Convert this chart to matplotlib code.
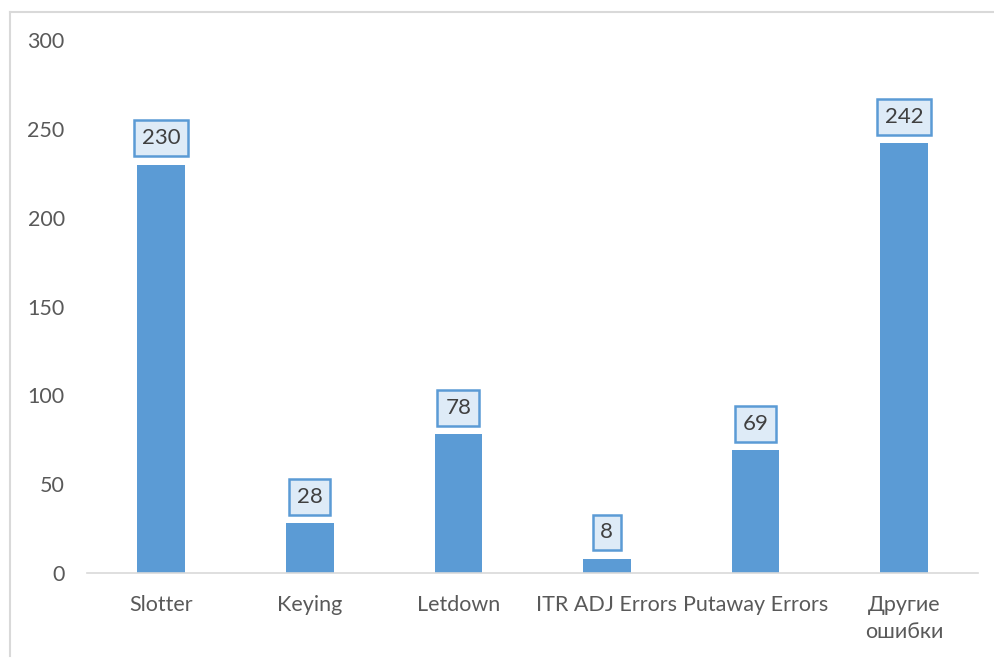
import matplotlib.pyplot as plt
from matplotlib.lines import Line2D

categories = ["Slotter", "Keying", "Letdown", "ITR ADJ Errors", "Putaway Errors", "Другие\nошибки"]
values = [230, 28, 78, 8, 69, 242]
yticks = [0, 50, 100, 150, 200, 250, 300]

bar_color = "#5B9BD5"
text_color = "#595959"

plt.rcParams["font.family"] = ["Lato", "Open Sans", "DejaVu Sans"]

fig = plt.figure(figsize=(9.95, 6.59), dpi=100)
ax = fig.add_axes([0.0874, 0.1305, 0.8956, 0.8085])

x = range(len(categories))
bars = ax.bar(x, values, width=0.32, color=bar_color, zorder=2)

for xi, v in zip(x, values):
    ax.annotate(
        str(v), (xi, v), xytext=(0, 19), textcoords="offset points",
        ha="center", va="center", fontsize=16, color="#404040",
        bbox=dict(boxstyle="square,pad=0.35", fc="#DEEBF7", ec=bar_color, lw=1.8),
    )

ax.set_xlim(-0.5, len(categories) - 0.5)
ax.set_ylim(0, 300)
ax.set_yticks(yticks)
ax.set_xticks(list(x))
ax.set_xticklabels(categories, linespacing=1.45)
ax.tick_params(axis="both", length=0, labelsize=15.5, colors=text_color)
ax.tick_params(axis="y", pad=16)
ax.tick_params(axis="x", pad=16)

for side in ["top", "right", "left"]:
    ax.spines[side].set_visible(False)
ax.spines["bottom"].set_color("#D9D9D9")
ax.spines["bottom"].set_linewidth(1.2)

# outer chart frame (only left and top visible in the crop)
fig.add_artist(Line2D([10 / 995, 10 / 995], [1 - 12 / 659, 1 - 656 / 659],
                      transform=fig.transFigure, color="#D9D9D9", lw=1.5))
fig.add_artist(Line2D([10 / 995, 1], [1 - 12 / 659, 1 - 12 / 659],
                      transform=fig.transFigure, color="#D9D9D9", lw=1.5))

fig.savefig("out.png", dpi=100)
